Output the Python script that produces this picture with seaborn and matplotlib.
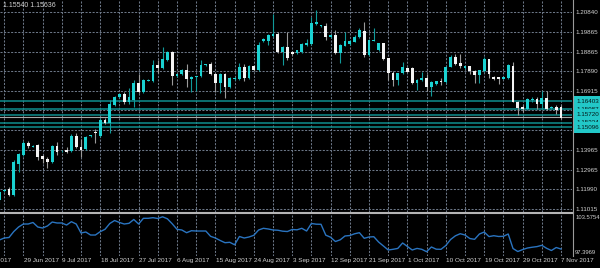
import numpy as np
import pandas as pd
import matplotlib
matplotlib.use("Agg")
import matplotlib.pyplot as plt
import matplotlib.transforms as mtransforms
from matplotlib.lines import Line2D
import seaborn as sns

# ---------------- data ----------------
opens = [1.1145,1.1190,1.1203,1.1170,1.1325,1.1370,1.1433,1.1413,1.1420,1.1366,
         1.1353,1.1337,1.1415,1.1389,1.1395,1.1390,1.1467,1.1412,1.1399,1.1465,
         1.1488,1.1467,1.1545,1.1529,1.1620,1.1659,1.1675,1.1635,1.1645,1.1729,
         1.1687,1.1743,1.1742,1.1820,1.1804,1.1845,1.1887,1.1765,1.1775,1.1795,
         1.1749,1.1759,1.1765,1.1821,1.1824,1.1775,1.1732,1.1775,1.1709,1.1752,
         1.1752,1.1812,1.1757,1.1815,1.1795,1.1942,1.1942,1.1965,1.1974,1.1887,
         1.1909,1.1887,1.1879,1.1887,1.1920,1.1924,1.2024,1.2015,1.2017,1.1959,
         1.1970,1.1882,1.1917,1.1924,1.1937,1.1959,1.1992,1.1870,1.1943,1.1895,
         1.1929,1.1854,1.1782,1.1745,1.1779,1.1807,1.1807,1.1729,1.1745,1.1757,
         1.1712,1.1724,1.1740,1.1737,1.1812,1.1862,1.1829,1.1804,1.1815,1.1792,
         1.1770,1.1790,1.1849,1.1762,1.1759,1.1752,1.1754,1.1817,1.1637,1.1609,
         1.1599,1.1645,1.1650,1.1624,1.1657,1.1604,1.1609,1.1609]
closes = [1.1185,1.1195,1.1170,1.1338,1.1375,1.1433,1.1418,1.1418,1.1363,1.1350,
          1.1337,1.1417,1.1387,1.1393,1.1387,1.1467,1.1409,1.1395,1.1462,1.1469,
          1.1480,1.1545,1.1529,1.1625,1.1659,1.1675,1.1635,1.1660,1.1729,1.1687,
          1.1745,1.1745,1.1820,1.1804,1.1849,1.1884,1.1765,1.1775,1.1795,1.1749,
          1.1762,1.1765,1.1820,1.1824,1.1775,1.1732,1.1775,1.1709,1.1757,1.1757,
          1.1812,1.1757,1.1815,1.1795,1.1920,1.1952,1.1970,1.1974,1.1887,1.1912,
          1.1854,1.1875,1.1895,1.1924,1.1929,1.2029,1.2035,1.2020,1.1959,1.1970,
          1.1882,1.1920,1.1942,1.1942,1.1959,1.1995,1.1870,1.1945,1.1945,1.1929,
          1.1850,1.1782,1.1745,1.1779,1.1812,1.1787,1.1729,1.1745,1.1757,1.1709,
          1.1737,1.1740,1.1737,1.1812,1.1862,1.1825,1.1815,1.1815,1.1792,1.1770,
          1.1795,1.1849,1.1775,1.1750,1.1750,1.1759,1.1820,1.1637,1.1604,1.1599,
          1.1650,1.1652,1.1624,1.1657,1.1600,1.1612,1.1595,1.1554]
highs = [1.1200,1.1200,1.1213,1.1345,1.1380,1.1440,1.1440,1.1420,1.1425,1.1370,
         1.1360,1.1420,1.1437,1.1395,1.1409,1.1475,1.1482,1.1450,1.1465,1.1470,
         1.1500,1.1555,1.1555,1.1645,1.1665,1.1680,1.1685,1.1705,1.1745,1.1775,
         1.1750,1.1750,1.1845,1.1845,1.1912,1.1890,1.1890,1.1778,1.1800,1.1824,
         1.1765,1.1768,1.1845,1.1828,1.1837,1.1780,1.1780,1.1780,1.1760,1.1760,
         1.1829,1.1824,1.1820,1.1820,1.1937,1.1955,1.1975,1.2075,1.1987,1.1915,
         1.1987,1.1890,1.1898,1.1932,1.1949,1.2059,1.2095,1.2023,1.2032,1.1973,
         1.1995,1.1925,1.1987,1.1945,1.1970,1.2007,1.2034,1.1950,1.2004,1.1932,
         1.1932,1.1857,1.1792,1.1782,1.1834,1.1810,1.1810,1.1749,1.1787,1.1775,
         1.1740,1.1743,1.1754,1.1815,1.1870,1.1874,1.1875,1.1818,1.1818,1.1795,
         1.1798,1.1859,1.1852,1.1765,1.1762,1.1762,1.1824,1.1837,1.1640,1.1620,
         1.1654,1.1662,1.1662,1.1692,1.1690,1.1615,1.1620,1.1620]
lows = [1.1130,1.1185,1.1165,1.1165,1.1285,1.1365,1.1405,1.1410,1.1345,1.1330,
        1.1305,1.1330,1.1370,1.1385,1.1379,1.1385,1.1405,1.1362,1.1395,1.1460,
        1.1430,1.1460,1.1525,1.1480,1.1615,1.1655,1.1625,1.1625,1.1610,1.1683,
        1.1683,1.1740,1.1738,1.1780,1.1800,1.1840,1.1720,1.1760,1.1770,1.1709,
        1.1687,1.1692,1.1760,1.1818,1.1770,1.1687,1.1679,1.1654,1.1705,1.1748,
        1.1748,1.1742,1.1753,1.1790,1.1790,1.1938,1.1920,1.1963,1.1879,1.1820,
        1.1845,1.1873,1.1875,1.1879,1.1918,1.1920,1.2020,1.2013,1.1945,1.1955,
        1.1878,1.1832,1.1914,1.1920,1.1934,1.1955,1.1859,1.1865,1.1940,1.1892,
        1.1847,1.1745,1.1715,1.1720,1.1775,1.1784,1.1725,1.1695,1.1742,1.1692,
        1.1667,1.1720,1.1720,1.1733,1.1809,1.1822,1.1804,1.1800,1.1775,1.1732,
        1.1729,1.1787,1.1757,1.1747,1.1725,1.1749,1.1750,1.1634,1.1570,1.1587,
        1.1595,1.1637,1.1599,1.1599,1.1597,1.1600,1.1575,1.1549]
indicator = [99.47,99.82,99.91,100.97,101.77,102.30,102.30,102.57,101.77,101.59,
             101.95,102.65,102.48,102.48,102.12,102.71,102.30,100.71,100.88,100.35,
             100.35,100.94,101.36,102.39,102.92,102.57,102.30,102.42,103.10,102.30,
             103.31,103.31,103.42,103.27,103.5754,103.22,102.34,101.36,101.24,100.76,
             101.11,101.06,101.06,101.06,100.12,99.82,99.38,98.99,99.06,98.62,
             100.09,99.82,100.00,100.30,101.24,101.54,101.42,101.24,101.20,101.03,
             100.97,101.33,101.27,101.54,101.06,102.39,102.27,102.25,100.32,99.96,
             99.20,99.50,100.18,100.26,100.57,100.76,99.77,100.00,100.05,99.11,
             98.41,97.70,97.82,97.98,98.94,98.32,97.70,97.98,97.82,97.3969,
             98.23,97.84,97.82,98.49,99.56,100.21,100.58,100.35,99.73,99.59,
             100.53,100.88,100.07,100.23,100.09,100.12,100.53,97.96,97.43,97.77,
             98.05,98.19,98.30,98.53,98.00,97.61,98.14,97.87]

level_prices = [1.16403, 1.15987, 1.15720, 1.15334, 1.15096]
level_labels = ["1.16403", "1.15987", "1.15720", "1.15334", "1.15096"]
bid_price = 1.15600

price_ticks = [1.20840, 1.19865, 1.18865, 1.17890, 1.16915, 1.15940,
               1.14940, 1.13965, 1.12965, 1.11990, 1.11015]
price_tick_labels = ["1.20840", "1.19865", "1.18865", "1.17890", "1.16915", "1.15940",
                     "1.14940", "1.13965", "1.12965", "1.11990", "1.11015"]
ind_ticks = [103.5754, 97.3969]
ind_tick_labels = ["103.5754", "97.3969"]

date_labels = ["20 Jun 2017", "29 Jun 2017", "9 Jul 2017", "18 Jul 2017", "27 Jul 2017",
               "6 Aug 2017", "15 Aug 2017", "24 Aug 2017", "3 Sep 2017", "12 Sep 2017",
               "21 Sep 2017", "1 Oct 2017", "10 Oct 2017", "19 Oct 2017", "29 Oct 2017",
               "7 Nov 2017"]
bars_per_label = 8
bars_per_grid = 4
header_text = "1.15540 1.15636"

# ---------------- styling ----------------
BG = "black"
GRID = "#6b7686"
BULL = "#1ad2d2"
BULL_WICK = "#109a9a"
BEAR = "#f4f4f4"
BEAR_WICK = "#9a9a9a"
LEVEL = "#0f8e8e"
LABEL_BOX = "#22c8c8"
TXT = "#d2d2d2"
IND = "#2a74c0"
FONT = "Liberation Sans"
FS = 4.5
FS_IND = 4.2
FS_DATE = 4.6

W, H = 600, 268
fig = plt.figure(figsize=(6, 2.68), dpi=100, facecolor=BG)
plt.rcParams["font.family"] = [FONT, "DejaVu Sans"]
ax = fig.add_axes([0, 1 - 212 / H, 572 / W, 212 / H])
axi = fig.add_axes([0, 1 - 256 / H, 572 / W, 42 / H])

df = pd.DataFrame({"open": opens, "high": highs, "low": lows, "close": closes,
                   "ind": indicator})
df["bar"] = np.arange(len(df))
n = len(df)
xlim = (0.125, 119.29)

for a in (ax, axi):
    a.set_facecolor(BG)
    for s in a.spines.values():
        s.set_visible(False)
    a.set_xlim(*xlim)
    a.set_xticks([])
    for b in range(n - 1, -1, -bars_per_grid):
        a.axvline(b, color=GRID, lw=0.75, ls=(0, (2, 1.4)), zorder=0)

# main price panel
ax.set_ylim(1.10865, 1.21454)
for p in price_ticks:
    ax.axhline(p, color=GRID, lw=0.75, ls=(0, (2, 1.4)), zorder=0)

for p in level_prices:
    ax.axhline(p, color=LEVEL, lw=1.1, zorder=1)
ax.axhline(bid_price, color="#a8a8a8", lw=0.8, zorder=1)

bull = df["close"] >= df["open"]
ax.vlines(df["bar"], df["low"], df["high"],
          colors=np.where(bull, BULL_WICK, BEAR_WICK), lw=0.8, zorder=2)
body_low = np.minimum(df["open"], df["close"])
body_h = np.maximum(np.abs(df["close"] - df["open"]), 0.00045)
ax.bar(df["bar"], body_h, bottom=body_low, width=0.62,
       color=np.where(bull, BULL, BEAR), linewidth=0, zorder=3)

ax.yaxis.tick_right()
ax.set_yticks(price_ticks)
ax.set_yticklabels(price_tick_labels, fontfamily=FONT)
ax.tick_params(axis="y", length=0, pad=2.6, labelsize=FS, labelcolor=TXT)

tr = mtransforms.blended_transform_factory(ax.transAxes, ax.transData)
for p, lab in zip(level_prices, level_labels):
    ax.text(1.0 + 4.2 / 572, p, lab, transform=tr, ha="left", va="center",
            fontsize=FS, color="#041818", zorder=10, clip_on=False, fontfamily=FONT,
            bbox=dict(boxstyle="square,pad=0.45", fc=LABEL_BOX, ec="none"))

# indicator panel
sns.lineplot(data=df, x="bar", y="ind", ax=axi, color=IND, lw=1.0, zorder=3)
axi.set_ylim(96.636, 104.071)
axi.set_xlim(*xlim)
axi.set_xlabel("")
axi.set_ylabel("")
axi.yaxis.tick_right()
axi.set_yticks(ind_ticks)
axi.set_yticklabels(ind_tick_labels, fontfamily=FONT)
axi.tick_params(axis="y", length=0, pad=2.2, labelsize=FS_IND, labelcolor=TXT)
axi.set_xticks([])

# date labels
trd = mtransforms.blended_transform_factory(axi.transData, axi.transAxes)
first_bar = (n - 1) - bars_per_label * (len(date_labels) - 1)
for k, lab in enumerate(date_labels):
    b = first_bar + k * bars_per_label
    shift = -1.8 if k == 0 else 0.1
    axi.text(b + shift, -0.11, lab, transform=trd, ha="left", va="center",
             fontsize=FS_DATE, color=TXT, clip_on=False, fontfamily=FONT)

# separators and header
fig.add_artist(Line2D([0, 573 / W], [1 - 212.8 / H] * 2, color="#b4b4b4", lw=1.5,
                      transform=fig.transFigure))
fig.add_artist(Line2D([572.5 / W] * 2, [1 - 256 / H, 1], color="#9a9a9a", lw=0.8,
                      transform=fig.transFigure))
fig.text(3 / W, 1 - 5.5 / H, header_text, fontsize=5.0, color=TXT, va="center",
         ha="left", fontfamily=FONT)

fig.savefig("out.png", dpi=100, facecolor=BG)
